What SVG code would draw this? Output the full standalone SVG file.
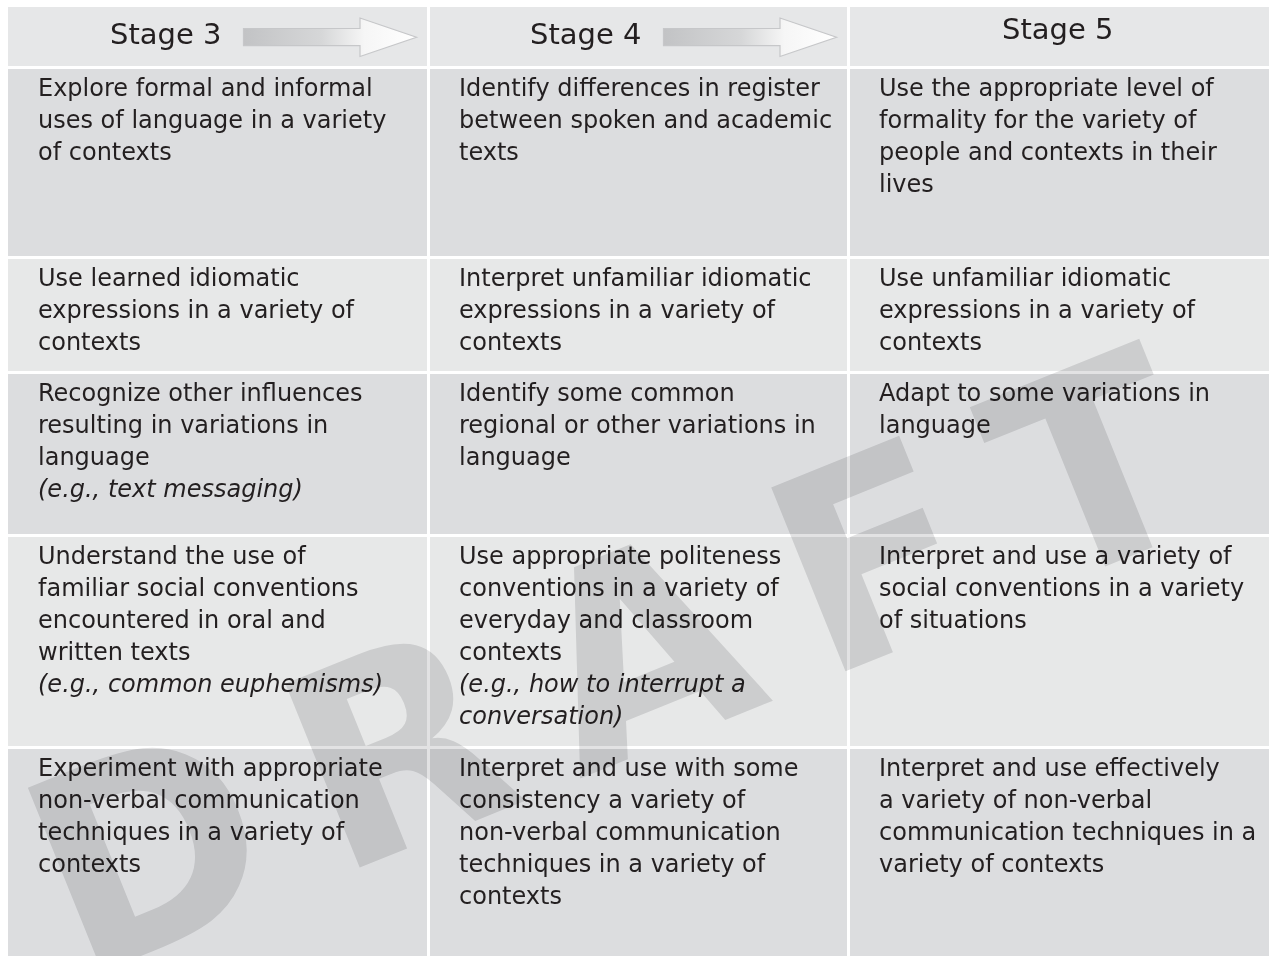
<svg xmlns="http://www.w3.org/2000/svg" width="1271" height="956" viewBox="0 0 1271 956">
<style>
.hd{fill:#e6e7e8}
.lt{fill:#e7e8e8}
.dk{fill:#dcdddf}
.t{font-family:"DejaVu Sans","Liberation Sans",sans-serif;font-size:24px;fill:#231f20}
.i{font-style:italic}
.h{font-family:"DejaVu Sans","Liberation Sans",sans-serif;font-size:29px;fill:#231f20}
.arrow{fill:url(#ag);stroke:#c6c7c9;stroke-width:1.2}
.wm{font-family:"DejaVu Sans","Verdana",sans-serif;font-weight:bold;font-size:272px;letter-spacing:52px;fill:#e2e2e3;mix-blend-mode:multiply}
</style>
<defs>
<linearGradient id="ag" x1="0" y1="0" x2="1" y2="0">
<stop offset="0" stop-color="#c2c3c5"/>
<stop offset="0.45" stop-color="#d6d7d8"/>
<stop offset="0.7" stop-color="#f6f6f6"/>
<stop offset="1" stop-color="#ffffff"/>
</linearGradient>
</defs>
<rect width="1271" height="956" fill="#ffffff"/>

<g id="header-stage3"><rect class="hd" x="8" y="7" width="419" height="59"/><text class="h" x="110" y="44">Stage 3</text></g>
<g id="header-stage4"><rect class="hd" x="430" y="7" width="417" height="59"/><text class="h" x="530" y="44">Stage 4</text></g>
<g id="header-stage5"><rect class="hd" x="850" y="7" width="419" height="59"/><text class="h" x="1002" y="39">Stage 5</text></g>

<g id="connectors">
<path class="arrow" d="M243.5,28.5 H360 V18 L416.5,37.2 L360,56.5 V45.7 H243.5 Z"/>
<path class="arrow" d="M663.5,28.5 H780 V18 L836.5,37.2 L780,56.5 V45.7 H663.5 Z"/>
</g>

<g id="r1c1"><rect class="dk" x="8" y="69" width="419" height="187"/><text class="t" x="38" y="96">Explore formal and informal<tspan x="38" dy="32">uses of language in a variety</tspan><tspan x="38" dy="32">of contexts</tspan></text></g>
<g id="r1c2"><rect class="dk" x="430" y="69" width="417" height="187"/><text class="t" x="459" y="96">Identify differences in register<tspan x="459" dy="32">between spoken and academic</tspan><tspan x="459" dy="32">texts</tspan></text></g>
<g id="r1c3"><rect class="dk" x="850" y="69" width="419" height="187"/><text class="t" x="879" y="96">Use the appropriate level of<tspan x="879" dy="32">formality for the variety of</tspan><tspan x="879" dy="32">people and contexts in their</tspan><tspan x="879" dy="32">lives</tspan></text></g>

<g id="r2c1"><rect class="lt" x="8" y="259" width="419" height="112"/><text class="t" x="38" y="286">Use learned idiomatic<tspan x="38" dy="32">expressions in a variety of</tspan><tspan x="38" dy="32">contexts</tspan></text></g>
<g id="r2c2"><rect class="lt" x="430" y="259" width="417" height="112"/><text class="t" x="459" y="286">Interpret unfamiliar idiomatic<tspan x="459" dy="32">expressions in a variety of</tspan><tspan x="459" dy="32">contexts</tspan></text></g>
<g id="r2c3"><rect class="lt" x="850" y="259" width="419" height="112"/><text class="t" x="879" y="286">Use unfamiliar idiomatic<tspan x="879" dy="32">expressions in a variety of</tspan><tspan x="879" dy="32">contexts</tspan></text></g>

<g id="r3c1"><rect class="dk" x="8" y="374" width="419" height="160"/><text class="t" x="38" y="401">Recognize other influences<tspan x="38" dy="32">resulting in variations in</tspan><tspan x="38" dy="32">language</tspan><tspan class="i" x="38" dy="32">(e.g., text messaging)</tspan></text></g>
<g id="r3c2"><rect class="dk" x="430" y="374" width="417" height="160"/><text class="t" x="459" y="401">Identify some common<tspan x="459" dy="32">regional or other variations in</tspan><tspan x="459" dy="32">language</tspan></text></g>
<g id="r3c3"><rect class="dk" x="850" y="374" width="419" height="160"/><text class="t" x="879" y="401">Adapt to some variations in<tspan x="879" dy="32">language</tspan></text></g>

<g id="r4c1"><rect class="lt" x="8" y="537" width="419" height="209"/><text class="t" x="38" y="564">Understand the use of<tspan x="38" dy="32">familiar social conventions</tspan><tspan x="38" dy="32">encountered in oral and</tspan><tspan x="38" dy="32">written texts</tspan><tspan class="i" x="38" dy="32">(e.g., common euphemisms)</tspan></text></g>
<g id="r4c2"><rect class="lt" x="430" y="537" width="417" height="209"/><text class="t" x="459" y="564">Use appropriate politeness<tspan x="459" dy="32">conventions in a variety of</tspan><tspan x="459" dy="32">everyday and classroom</tspan><tspan x="459" dy="32">contexts</tspan><tspan class="i" x="459" dy="32">(e.g., how to interrupt a</tspan><tspan class="i" x="459" dy="32">conversation)</tspan></text></g>
<g id="r4c3"><rect class="lt" x="850" y="537" width="419" height="209"/><text class="t" x="879" y="564">Interpret and use a variety of<tspan x="879" dy="32">social conventions in a variety</tspan><tspan x="879" dy="32">of situations</tspan></text></g>

<g id="r5c1"><rect class="dk" x="8" y="749" width="419" height="207"/><text class="t" x="38" y="776">Experiment with appropriate<tspan x="38" dy="32">non-verbal communication</tspan><tspan x="38" dy="32">techniques in a variety of</tspan><tspan x="38" dy="32">contexts</tspan></text></g>
<g id="r5c2"><rect class="dk" x="430" y="749" width="417" height="207"/><text class="t" x="459" y="776">Interpret and use with some<tspan x="459" dy="32">consistency a variety of</tspan><tspan x="459" dy="32">non-verbal communication</tspan><tspan x="459" dy="32">techniques in a variety of</tspan><tspan x="459" dy="32">contexts</tspan></text></g>
<g id="r5c3"><rect class="dk" x="850" y="749" width="419" height="207"/><text class="t" x="879" y="776">Interpret and use effectively<tspan x="879" dy="32">a variety of non-verbal</tspan><tspan x="879" dy="32">communication techniques in a</tspan><tspan x="879" dy="32">variety of contexts</tspan></text></g>

<g id="watermark"><text class="wm" transform="translate(79,981) rotate(-22)" x="0" y="0">DRAFT</text></g>
</svg>
